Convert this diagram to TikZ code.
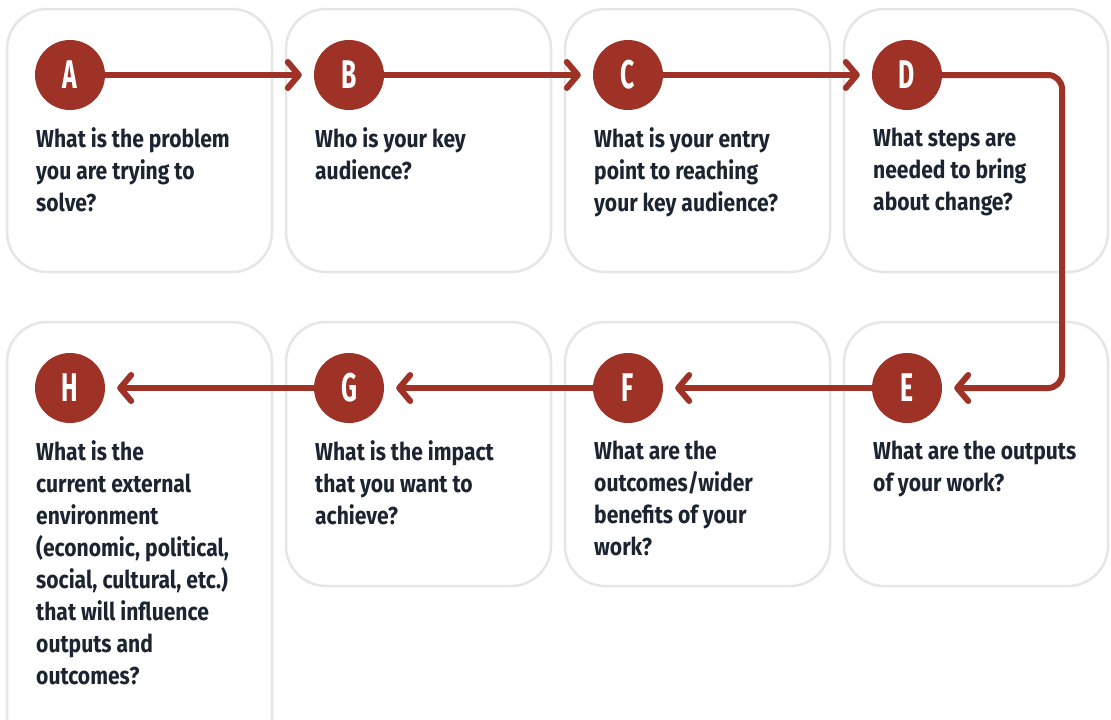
\documentclass[tikz,border=0pt]{standalone}
\usepackage{fontspec}
\setmainfont{Fira Sans}
\newfontfamily\qfont[FakeStretch=0.86]{Fira Sans Bold}
\newfontfamily\lfont[FakeStretch=0.62]{Fira Sans Bold}
\usetikzlibrary{arrows.meta}
\definecolor{brick}{HTML}{9E3226}
\definecolor{ink}{HTML}{1B2430}
\definecolor{rim}{HTML}{E6E6E6}
\tikzset{
  card/.style={draw=rim, line width=2.5pt, rounded corners=40pt, fill=white},
  badge/.style={circle, fill=brick, minimum size=70pt, inner sep=0pt, text=white, font=\lfont\fontsize{40}{40}\selectfont},
  question/.style={anchor=north west, inner sep=0pt, align=left, text=ink, font=\qfont\fontsize{24.5}{32}\selectfont},
  flow/.style={draw=brick, line width=6pt, line cap=round, line join=round, rounded corners=14pt,
    -{Straight Barb[length=11pt, width=26pt, line width=6pt, round]}, shorten >=12pt, shorten <=-2pt}
}
\begin{document}
\begin{tikzpicture}[x=1pt, y=-1pt]
\clip (0,0) rectangle (1111,720);
\fill[white] (0,0) rectangle (1111,720);
% cards
\draw[card] (7,9) rectangle (272,272);
\draw[card] (286,9) rectangle (551,272);
\draw[card] (565,9) rectangle (830,272);
\draw[card] (844,9) rectangle (1108,272);
\draw[card] (7,322) rectangle (272,780);
\draw[card] (286,322) rectangle (551,586);
\draw[card] (565,322) rectangle (830,586);
\draw[card] (844,322) rectangle (1108,586);
% badges
\node[badge] (A) at (70,75) {A};
\node[badge] (B) at (349,75) {B};
\node[badge] (C) at (628,75) {C};
\node[badge] (D) at (907,75) {D};
\node[badge] (H) at (70,388) {H};
\node[badge] (G) at (349,388) {G};
\node[badge] (F) at (628,388) {F};
\node[badge] (E) at (907,388) {E};
% questions
\node[question] (qA) at (36,127.5) {What is the problem\\you are trying to\\solve?};
\node[question] (qB) at (315,127.5) {Who is your key\\audience?};
\node[question] (qC) at (594,127.5) {What is your entry\\point to reaching\\your key audience?};
\node[question] (qD) at (873,127.5) {What steps are\\needed to bring\\about change?};
\node[question] (qH) at (36,440.5) {What is the\\current external\\environment\\(economic, political,\\social, cultural, etc.)\\that will influence\\outputs and\\outcomes?};
\node[question] (qG) at (315,440.5) {What is the impact\\that you want to\\achieve?};
\node[question] (qF) at (594,440.5) {What are the\\outcomes/wider\\benefits of your\\work?};
\node[question] (qE) at (873,440.5) {What are the outputs\\of your work?};
% connectors
\coordinate (turn1) at (1062,75);
\coordinate (turn2) at (1062,388);
\draw[flow] (A.east) -- (B.west);
\draw[flow] (B.east) -- (C.west);
\draw[flow] (C.east) -- (D.west);
\draw[flow] (D.east) -- (turn1) -- (turn2) -- (E.east);
\draw[flow] (E.west) -- (F.east);
\draw[flow] (F.west) -- (G.east);
\draw[flow] (G.west) -- (H.east);
\end{tikzpicture}
\end{document}
